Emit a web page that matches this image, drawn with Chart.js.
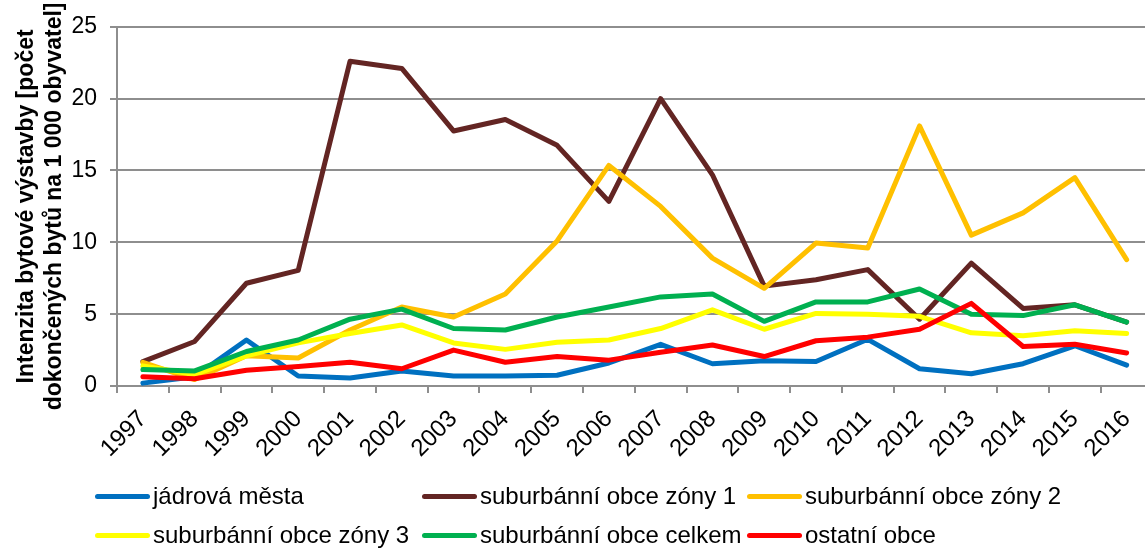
<!DOCTYPE html>
<html>
<head>
<meta charset="utf-8">
<script src="https://cdn.jsdelivr.net/npm/chart.js@4/dist/chart.umd.min.js"></script>
<style>
  html, body { margin:0; padding:0; background:#fff; overflow:hidden; width:1145px; height:548px; }
  #wrap { position:absolute; left:0; top:0; width:1159px; height:465px; }
  #legend { position:absolute; left:0; top:0; width:1145px; height:548px; pointer-events:none;
            font-family:"Liberation Sans", Arial, sans-serif; font-size:24px; color:#000; }
  .item { position:absolute; height:28px; line-height:28px; display:flex; align-items:center; white-space:nowrap; }
  .swatch { display:inline-block; width:55px; height:5px; border-radius:3px; margin-right:3px; }
</style>
</head>
<body>
<div id="wrap"><canvas id="c"></canvas></div>
<div id="legend"></div>
<script>
const years = ["1997","1998","1999","2000","2001","2002","2003","2004","2005","2006","2007","2008","2009","2010","2011","2012","2013","2014","2015","2016"];
const yTicks = [0, 5, 10, 15, 20, 25];
const seriesNames = ["jádrová města","suburbánní obce zóny 1","suburbánní obce zóny 2","suburbánní obce zóny 3","suburbánní obce celkem","ostatní obce"];
const jadrovaMesta = [0.2, 0.65, 3.2, 0.7, 0.55, 1.05, 0.7, 0.7, 0.75, 1.6, 2.9, 1.55, 1.75, 1.7, 3.25, 1.2, 0.85, 1.55, 2.8, 1.45];
const zona1 = [1.7, 3.1, 7.15, 8.05, 22.6, 22.1, 17.75, 18.55, 16.75, 12.85, 20.0, 14.7, 6.95, 7.4, 8.1, 4.65, 8.55, 5.4, 5.65, 4.45];
const zona2 = [1.65, 0.45, 2.1, 1.95, 3.9, 5.5, 4.8, 6.4, 10.1, 15.35, 12.5, 8.9, 6.8, 9.95, 9.6, 18.1, 10.5, 12.05, 14.5, 8.8];
const zona3 = [1.4, 0.8, 2.1, 3.0, 3.65, 4.25, 3.0, 2.55, 3.05, 3.2, 4.0, 5.3, 3.95, 5.05, 5.0, 4.85, 3.7, 3.5, 3.85, 3.65];
const celkem = [1.15, 1.05, 2.4, 3.2, 4.65, 5.35, 4.0, 3.9, 4.8, 5.5, 6.2, 6.4, 4.5, 5.85, 5.85, 6.75, 5.0, 4.9, 5.65, 4.45];
const ostatni = [0.65, 0.5, 1.1, 1.35, 1.65, 1.2, 2.5, 1.65, 2.05, 1.8, 2.35, 2.85, 2.05, 3.15, 3.4, 3.95, 5.75, 2.75, 2.9, 2.3];
const yTitle = ["Intenzita bytové výstavby [počet", "dokončených bytů na 1 000 obyvatel]"];

const colors = ["#0070C0", "#632523", "#FFC000", "#FFFF00", "#00B050", "#FF0000"];
const values = [jadrovaMesta, zona1, zona2, zona3, celkem, ostatni];

const FONT = '"Liberation Sans", Arial, sans-serif';
const GRID = '#8e8e8e';

const datasets = values.map((v, i) => ({
  label: seriesNames[i],
  data: v,
  borderColor: colors[i],
  backgroundColor: colors[i],
  borderWidth: 5,
  pointRadius: 0,
  pointHoverRadius: 0,
  tension: 0,
  fill: false,
  borderJoinStyle: 'round',
  borderCapStyle: 'round',
  order: values.length - 1 - i
}));

const chart = new Chart(document.getElementById('c'), {
  type: 'line',
  data: { labels: years, datasets },
  options: {
    responsive: true,
    maintainAspectRatio: false,
    animation: false,
    events: [],
    layout: { padding: { top: 24, right: 0, bottom: 0, left: 0 } },
    plugins: { legend: { display: false }, tooltip: { enabled: false }, title: { display: false } },
    scales: {
      x: {
        type: 'category',
        offset: true,
        grid: { offset: true, drawOnChartArea: false, drawTicks: true, tickLength: 7, color: GRID, lineWidth: 2 },
        border: { display: true, color: GRID, width: 2 },
        ticks: { minRotation: 45, maxRotation: 45, autoSkip: false, color: '#000', padding: 12,
                 font: { family: FONT, size: 24 } },
        afterFit: (s) => { s.height = 79; }
      },
      y: {
        min: 0, max: 25,
        afterBuildTicks: (s) => { s.ticks = yTicks.map(v => ({ value: v })); },
        grid: { color: GRID, lineWidth: 2, drawTicks: true, tickLength: 7 },
        border: { display: true, color: GRID, width: 2 },
        ticks: { color: '#000', padding: 13, font: { family: FONT, size: 23 } },
        title: { display: true, text: yTitle, color: '#000', padding: { top: 13, bottom: 0 },
                 font: { family: FONT, size: 23, weight: 'bold', lineHeight: 1.22 } },
        afterFit: (s) => { s.width = 117; }
      }
    }
  }
});

// HTML legend built from the chart datasets (3 columns x 2 rows)
const legendEl = document.getElementById('legend');
const colX = [95, 422, 747];
const rowTop = [482, 521];
chart.data.datasets.forEach((ds, i) => {
  const item = document.createElement('div');
  item.className = 'item';
  item.style.left = colX[i % 3] + 'px';
  item.style.top = rowTop[Math.floor(i / 3)] + 'px';
  const sw = document.createElement('span');
  sw.className = 'swatch';
  sw.style.background = ds.borderColor;
  const tx = document.createElement('span');
  tx.textContent = ds.label;
  item.appendChild(sw);
  item.appendChild(tx);
  legendEl.appendChild(item);
});
</script>
</body>
</html>
